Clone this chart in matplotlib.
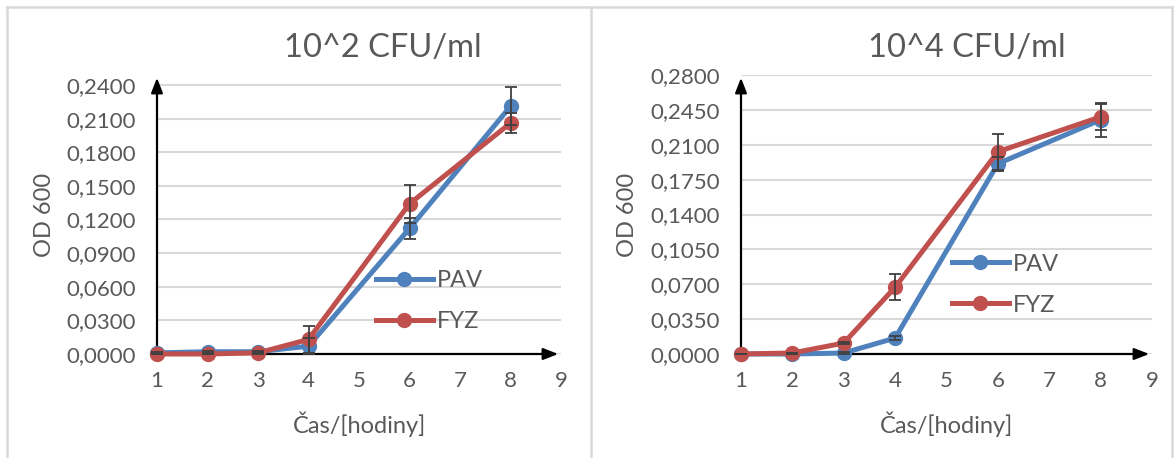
import matplotlib
matplotlib.use("Agg")
import matplotlib.pyplot as plt
from matplotlib.lines import Line2D
from matplotlib.ticker import FuncFormatter

plt.rcParams['font.family'] = ['Lato', 'DejaVu Sans']

# namerane hodnoty OD 600
hodiny = [1, 2, 3, 4, 6, 8]

pav_2 = [0.001, 0.002, 0.002, 0.007, 0.112, 0.221]
pav_2_err = [0.001, 0.001, 0.001, 0.007, 0.009, 0.017]
fyz_2 = [0.000, 0.000, 0.001, 0.013, 0.134, 0.206]
fyz_2_err = [0.000, 0.000, 0.001, 0.012, 0.017, 0.009]

pav_4 = [0.000, 0.000, 0.001, 0.016, 0.191, 0.235]
pav_4_err = [0.000, 0.000, 0.001, 0.002, 0.007, 0.017]
fyz_4 = [0.000, 0.001, 0.011, 0.067, 0.203, 0.238]
fyz_4_err = [0.000, 0.000, 0.001, 0.013, 0.018, 0.013]

titulky = ['10^2 CFU/ml', '10^4 CFU/ml']
y_kroky = [0.03, 0.035]
y_max = [0.24, 0.28]

MODRA = '#4f81bd'
CERVENA = '#c0504d'
SEDA = '#595959'
W, H = 1174, 458

fig = plt.figure(figsize=(W / 100, H / 100), dpi=100)

# ramecky okolo grafu
for xs, ys in [([7, 1172], [7, 7]), ([7, 7], [7, H]), ([591, 591], [7, H]), ([1172, 1172], [7, H])]:
    fig.add_artist(Line2D([x / W for x in xs], [1 - y / H for y in ys],
                          color='#d9d9d9', lw=1.8, transform=fig.transFigure))

def carka(v, pos):
    return ('%.4f' % v).replace('.', ',')

def graf(rect, pav, pav_err, fyz, fyz_err, titulek, krok, ymax, leg_pos, lab_x, tit_x, top_extra):
    ax = fig.add_axes(rect)
    ax.plot(hodiny, pav, color=MODRA, lw=3.6, marker='o', ms=10, zorder=3, label='PAV', clip_on=False)
    ax.plot(hodiny, fyz, color=CERVENA, lw=3.6, marker='o', ms=10, zorder=4, label='FYZ', clip_on=False)
    for y, e in [(pav, pav_err), (fyz, fyz_err)]:
        eb = ax.errorbar(hodiny, y, yerr=e, fmt='none', ecolor='#404040', elinewidth=1.3,
                         capsize=4.5, capthick=1.3, zorder=5)
        for a in eb.get_children():
            a.set_clip_on(False)

    ax.set_xlim(1, 9)
    ax.set_ylim(0, ymax + top_extra)
    ax.set_xticks(range(1, 10))
    ax.set_yticks([krok * i for i in range(9)])
    ax.yaxis.set_major_formatter(FuncFormatter(carka))
    ax.grid(axis='y', color='#d9d9d9', lw=1.5)
    ax.set_axisbelow(True)
    for s in ax.spines.values():
        s.set_visible(False)
    ax.tick_params(length=0, labelsize=16, colors=SEDA)
    ax.tick_params(axis='y', pad=15)
    ax.tick_params(axis='x', pad=12)

    # osy so sipkami
    ax.annotate('', xy=(1, ymax + top_extra), xytext=(1, 0), xycoords='data',
                arrowprops=dict(arrowstyle='-|>,head_length=0.9,head_width=0.35', color='black', lw=1.6),
                annotation_clip=False, zorder=2)
    ax.annotate('', xy=(9, 0), xytext=(1, 0), xycoords='data',
                arrowprops=dict(arrowstyle='-|>,head_length=0.9,head_width=0.35', color='black', lw=1.6),
                annotation_clip=False, zorder=2)

    ax.set_ylabel('OD 600', fontsize=17, color=SEDA)
    ax.yaxis.set_label_coords(lab_x, 0.5)
    ax.set_xlabel('Čas/[hodiny]', fontsize=17, color=SEDA)
    ax.xaxis.set_label_coords(0.5, -0.205)
    ax.text(tit_x, 1.097, titulek, transform=ax.transAxes, ha='center', va='center',
            fontsize=23.5, color=SEDA)

    leg = ax.legend(loc='upper left', bbox_to_anchor=leg_pos, frameon=False, fontsize=17,
                    handlelength=2.4, handletextpad=0.2, labelspacing=0.85, borderpad=0,
                    borderaxespad=0)
    for t in leg.get_texts():
        t.set_color(SEDA)
    return ax

ax_h = 279 / H
graf([157 / W, 104 / H, 404 / W, ax_h], pav_2, pav_2_err, fyz_2, fyz_2_err,
     titulky[0], y_kroky[0], y_max[0], (0.542, 0.30), -0.252, 0.559, 0.0089)
graf([741 / W, 104 / H, 411 / W, ax_h], pav_4, pav_4_err, fyz_4, fyz_4_err,
     titulky[1], y_kroky[1], y_max[1], (0.513, 0.36), -0.25, 0.55, 0.0)

fig.savefig('out.png', dpi=100)
